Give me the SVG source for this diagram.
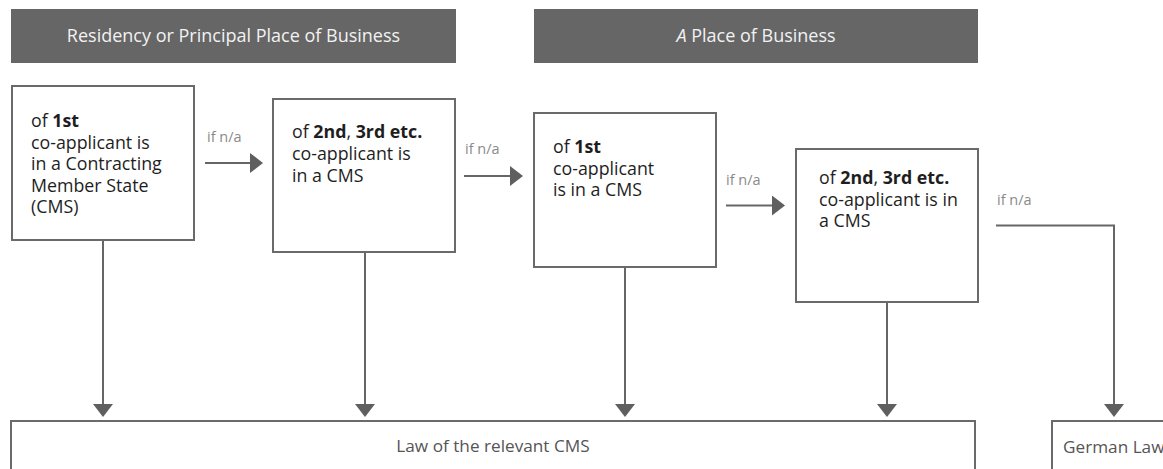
<svg xmlns="http://www.w3.org/2000/svg" width="1163" height="469" viewBox="0 0 1163 469">
  <style>
    .hdr { fill: #666666; }
    .hdr-text { font-family: "Open Sans", "Noto Sans", sans-serif; font-size: 18px; fill: #f2f2f2; text-anchor: middle; }
    .box { fill: #ffffff; stroke: #6a6a6a; stroke-width: 2; }
    .box-text { font-family: "Open Sans", "Noto Sans", sans-serif; font-size: 17.8px; fill: #1e1e1e; }
    .box-text .b { font-weight: 700; }
    .cond { font-family: "Open Sans", "Noto Sans", sans-serif; font-size: 14.5px; fill: #8a8a8a; }
    .out-text { font-family: "Open Sans", "Noto Sans", sans-serif; font-size: 17.2px; fill: #555555; }
    .link { fill: none; stroke: #666666; stroke-width: 2; marker-end: url(#head); }
  </style>
  <defs>
    <marker id="head" markerUnits="userSpaceOnUse" viewBox="0 0 13 20" refX="11" refY="10" markerWidth="13" markerHeight="20" orient="auto">
      <path d="M0,0 L13,10 L0,20 Z" fill="#5f5f5f"/>
    </marker>
  </defs>

  <!-- column headers -->
  <g id="header-residency">
    <rect class="hdr" x="11" y="9" width="445" height="54"/>
    <text class="hdr-text" x="233.5" y="42">Residency or Principal Place of Business</text>
  </g>
  <g id="header-place">
    <rect class="hdr" x="534" y="9" width="444" height="54"/>
    <text class="hdr-text" x="756" y="42"><tspan font-style="italic">A</tspan> Place of Business</text>
  </g>

  <!-- connectors -->
  <g id="connectors">
    <path class="link" d="M205,163 H261"/>
    <path class="link" d="M464,176 H521"/>
    <path class="link" d="M726,205.5 H783"/>
    <path class="link" d="M996,225.5 H1114 V415"/>
    <path class="link" d="M103,240 V415"/>
    <path class="link" d="M365,252 V415"/>
    <path class="link" d="M625,267 V415"/>
    <path class="link" d="M887,302 V415"/>
    <text class="cond" x="207" y="142">if n/a</text>
    <text class="cond" x="465" y="154">if n/a</text>
    <text class="cond" x="726" y="185">if n/a</text>
    <text class="cond" x="997" y="205">if n/a</text>
  </g>

  <!-- decision boxes -->
  <g id="res-first">
    <rect class="box" x="12" y="86" width="182" height="154"/>
    <text class="box-text" x="31" y="127">of <tspan class="b">1st</tspan></text>
    <text class="box-text" x="31" y="148.5">co-applicant is</text>
    <text class="box-text" x="31" y="170">in a Contracting</text>
    <text class="box-text" x="31" y="191.5">Member State</text>
    <text class="box-text" x="31" y="213">(CMS)</text>
  </g>
  <g id="res-others">
    <rect class="box" x="273" y="99" width="182" height="153"/>
    <text class="box-text" x="292" y="138">of <tspan class="b">2nd</tspan>, <tspan class="b">3rd etc.</tspan></text>
    <text class="box-text" x="292" y="160">co-applicant is</text>
    <text class="box-text" x="292" y="182">in a CMS</text>
  </g>
  <g id="pob-first">
    <rect class="box" x="534" y="113" width="182" height="154"/>
    <text class="box-text" x="553" y="153">of <tspan class="b">1st</tspan></text>
    <text class="box-text" x="553" y="174.5">co-applicant</text>
    <text class="box-text" x="553" y="196">is in a CMS</text>
  </g>
  <g id="pob-others">
    <rect class="box" x="796" y="149" width="182" height="153"/>
    <text class="box-text" x="819" y="184">of <tspan class="b">2nd</tspan>, <tspan class="b">3rd etc.</tspan></text>
    <text class="box-text" x="819" y="205.5">co-applicant is in</text>
    <text class="box-text" x="819" y="227">a CMS</text>
  </g>

  <!-- outcomes -->
  <g id="law-cms">
    <rect class="box" x="11" y="421" width="964" height="70"/>
    <text class="out-text" x="493" y="452" text-anchor="middle">Law of the relevant CMS</text>
  </g>
  <g id="law-german">
    <rect class="box" x="1052" y="421" width="140" height="70"/>
    <text class="out-text" x="1063" y="453">German Law</text>
  </g>
</svg>
